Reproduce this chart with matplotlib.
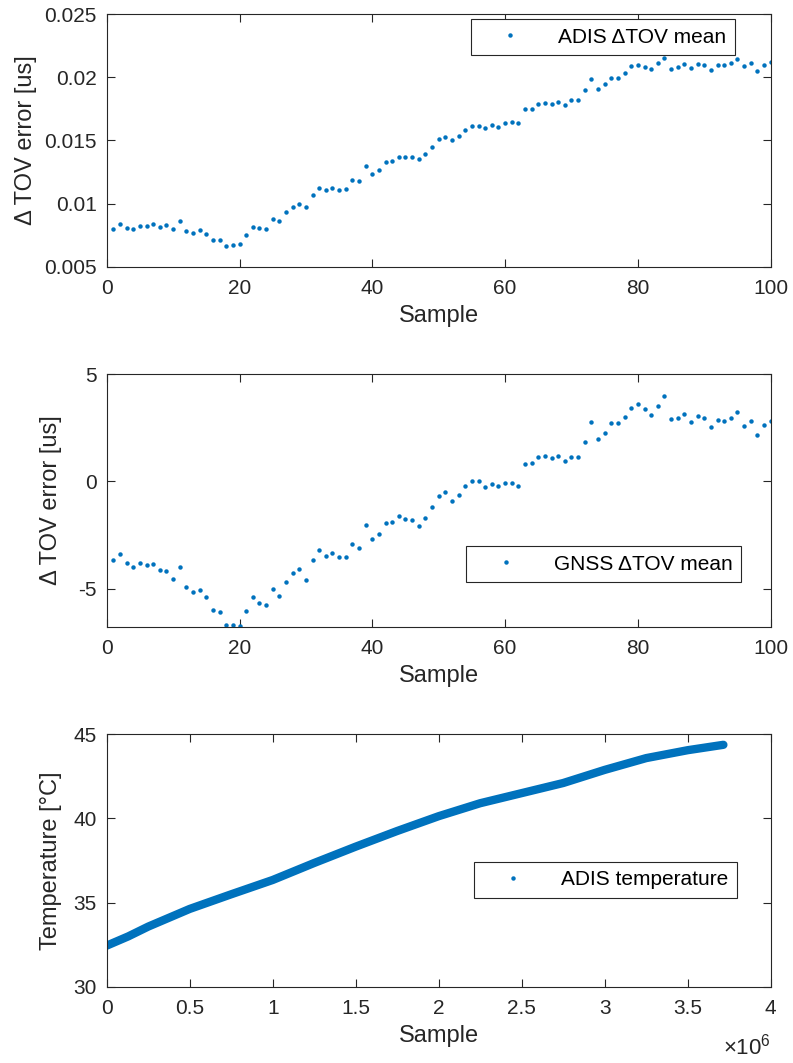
import matplotlib
matplotlib.use("Agg")
import matplotlib.pyplot as plt
from matplotlib.lines import Line2D

plt.rcParams['font.family'] = ['Liberation Sans', 'DejaVu Sans']
plt.rcParams['mathtext.fontset'] = 'custom'
plt.rcParams['mathtext.rm'] = 'Liberation Sans'
plt.rcParams['axes.unicode_minus'] = False

# ---------------- data ----------------
samples = list(range(1, 101))

adis_tov = [0.00798, 0.00835, 0.00803, 0.00798, 0.00822, 0.00822, 0.0084, 0.00817, 0.0083, 0.00798,
            0.00862, 0.00785, 0.00764, 0.0079, 0.00756, 0.00714, 0.00714, 0.00664, 0.00672, 0.0068,
            0.00748, 0.00814, 0.00806, 0.00801, 0.00877, 0.00859, 0.0093, 0.00975, 0.00999, 0.0097,
            0.01065, 0.0112, 0.01107, 0.0112, 0.0111, 0.01117, 0.01189, 0.01175, 0.01294, 0.01234,
            0.01265, 0.01329, 0.01334, 0.01368, 0.01368, 0.01368, 0.01352, 0.01394, 0.0145, 0.01508,
            0.01529, 0.01503, 0.01534, 0.01582, 0.01611, 0.01611, 0.016, 0.01621, 0.01603, 0.01642,
            0.01645, 0.0164, 0.01753, 0.01753, 0.0179, 0.01793, 0.01785, 0.01806, 0.0178, 0.01817,
            0.01817, 0.01896, 0.01985, 0.01906, 0.01949, 0.01993, 0.01996, 0.02033, 0.02088, 0.02099,
            0.02083, 0.02065, 0.02117, 0.02157, 0.02065, 0.02078, 0.02102, 0.0207, 0.02104, 0.02094,
            0.02057, 0.02096, 0.02099, 0.02112, 0.02146, 0.02086, 0.02112, 0.02054, 0.02099, 0.0212]

gnss_tov = [-3.67, -3.41, -3.81, -4.01, -3.83, -3.89, -3.87, -4.15, -4.17, -4.54,
            -4.00, -4.91, -5.16, -5.05, -5.40, -6.00, -6.10, -6.72, -6.69, -6.75,
            -6.05, -5.41, -5.66, -5.75, -5.04, -5.35, -4.70, -4.28, -4.11, -4.59,
            -3.67, -3.19, -3.47, -3.34, -3.55, -3.55, -2.91, -3.13, -2.02, -2.67,
            -2.44, -1.93, -1.90, -1.60, -1.74, -1.80, -2.10, -1.70, -1.20, -0.67,
            -0.48, -0.90, -0.65, -0.23, 0.02, 0.00, -0.25, -0.14, -0.22, -0.08,
            -0.06, -0.20, 0.82, 0.84, 1.15, 1.17, 1.07, 1.17, 0.95, 1.15,
            1.15, 1.85, 2.75, 1.96, 2.24, 2.72, 2.71, 3.00, 3.44, 3.59,
            3.37, 3.08, 3.50, 3.98, 2.91, 2.95, 3.16, 2.77, 3.06, 2.94,
            2.53, 2.88, 2.81, 2.97, 3.23, 2.58, 2.80, 2.15, 2.63, 2.83]

temp_sample = [0, 0.13e6, 0.25e6, 0.5e6, 0.75e6, 1.0e6, 1.25e6, 1.5e6, 1.75e6, 2.0e6,
               2.25e6, 2.5e6, 2.75e6, 3.0e6, 3.25e6, 3.5e6, 3.715e6]
temp_deg = [32.44, 32.99, 33.57, 34.62, 35.49, 36.34, 37.35, 38.32, 39.25, 40.13,
            40.90, 41.50, 42.10, 42.88, 43.58, 44.05, 44.37]

top_yticks = [0.005, 0.01, 0.015, 0.02, 0.025]
top_yticklabels = ['0.005', '0.01', '0.015', '0.02', '0.025']
mid_yticks = [-5, 0, 5]
tov_xticks = [0, 20, 40, 60, 80, 100]
temp_xticks = [0, 0.5e6, 1e6, 1.5e6, 2e6, 2.5e6, 3e6, 3.5e6, 4e6]
temp_xticklabels = ['0', '0.5', '1', '1.5', '2', '2.5', '3', '3.5', '4']
temp_yticks = [30, 35, 40, 45]

# ---------------- style ----------------
BLUE = '#0072BD'
AXC = '#262626'
TICK_FS = 15
LABEL_FS = 17
LEG_FS = 15

W, H = 793, 1063
fig = plt.figure(figsize=(W / 100, H / 100), dpi=100)

left = 106.7 / W
width = 664.0 / W
height = 252.5 / H
bottoms = [1 - 266.7 / H, 1 - 626.7 / H, 1 - 986.7 / H]


def style_axes(ax):
    for s in ax.spines.values():
        s.set_color(AXC)
        s.set_linewidth(0.8)
    ax.tick_params(direction='in', length=6, width=0.8, color=AXC,
                   top=True, right=True, labelsize=TICK_FS, labelcolor=AXC)
    ax.tick_params(axis='x', pad=9)
    ax.tick_params(axis='y', pad=7)


def legend(ax, handle, label, anchor, loc):
    leg = ax.legend([handle], [label], loc=loc, bbox_to_anchor=anchor,
                    fontsize=LEG_FS, frameon=True, fancybox=False, framealpha=1,
                    edgecolor=AXC, handlelength=3.0, handletextpad=0.8,
                    borderpad=0.4, borderaxespad=0)
    leg.get_frame().set_linewidth(0.8)
    for t in leg.get_texts():
        t.set_color('black')
    return leg


dot = Line2D([], [], marker='o', ls='none', ms=3.2, mew=0, color=BLUE)

# ---- panel 1 ----
ax1 = fig.add_axes([left, bottoms[0], width, height])
ax1.plot(samples, adis_tov, 'o', ms=3.2, mew=0, color=BLUE)
ax1.set_xlim(0, 100)
ax1.set_ylim(0.005, 0.025)
ax1.set_xticks(tov_xticks)
ax1.set_yticks(top_yticks)
ax1.set_yticklabels(top_yticklabels)
ax1.set_xlabel('Sample', fontsize=LABEL_FS, color=AXC, labelpad=5)
ax1.set_ylabel('Δ\u2009TOV error [us]', fontsize=LABEL_FS, color=AXC, labelpad=5)
style_axes(ax1)
legend(ax1, dot, 'ADIS ΔTOV mean', (0.946, 0.980), 'upper right')

# ---- panel 2 ----
ax2 = fig.add_axes([left, bottoms[1], width, height])
ax2.plot(samples, gnss_tov, 'o', ms=3.2, mew=0, color=BLUE)
ax2.set_xlim(0, 100)
ax2.set_ylim(-6.78, 5)
ax2.set_xticks(tov_xticks)
ax2.set_yticks(mid_yticks)
ax2.set_xlabel('Sample', fontsize=LABEL_FS, color=AXC, labelpad=5)
ax2.set_ylabel('Δ\u2009TOV error [us]', fontsize=LABEL_FS, color=AXC, labelpad=12)
style_axes(ax2)
legend(ax2, dot, 'GNSS ΔTOV mean', (0.955, 0.177), 'lower right')

# ---- panel 3 ----
ax3 = fig.add_axes([left, bottoms[2], width, height])
ax3.plot(temp_sample, temp_deg, '-', lw=6, color=BLUE, solid_capstyle='round',
         solid_joinstyle='round')
ax3.set_xlim(0, 4e6)
ax3.set_ylim(30, 45)
ax3.set_xticks(temp_xticks)
ax3.set_xticklabels(temp_xticklabels)
ax3.set_yticks(temp_yticks)
ax3.set_xlabel('Sample', fontsize=LABEL_FS, color=AXC, labelpad=5)
ax3.set_ylabel('Temperature [°C]', fontsize=LABEL_FS, color=AXC, labelpad=8)
style_axes(ax3)
legend(ax3, dot, 'ADIS temperature', (0.949, 0.352), 'lower right')
ax3.text(1.0, -0.185, r'$\mathregular{\times10^{6}}$', transform=ax3.transAxes,
         ha='right', va='top', fontsize=16, color=AXC)

fig.savefig('out.png', dpi=100)
